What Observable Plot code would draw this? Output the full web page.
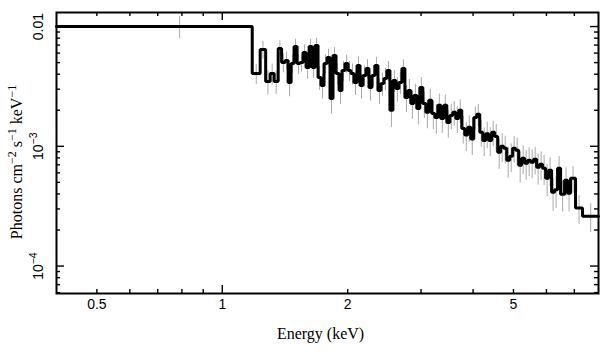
<!DOCTYPE html>
<html><head><meta charset="utf-8">
<script src="https://cdn.jsdelivr.net/npm/d3@7"></script>
<script src="https://cdn.jsdelivr.net/npm/@observablehq/plot@0.6"></script>
<style>body{margin:0;background:#fff}</style>
</head><body><div id="chart"></div>
<script>
// Bin edges (keV), 107 edges -> 106 bins
const edges = [0.4, 1.180, 1.233, 1.271, 1.303, 1.332, 1.362, 1.388, 1.415, 1.439, 1.463, 1.487, 1.512, 1.537, 1.563, 1.589, 1.616, 1.643, 1.670, 1.698, 1.726, 1.755, 1.784, 1.814, 1.844, 1.875, 1.907, 1.938, 1.971, 2.004, 2.037, 2.071, 2.106, 2.141, 2.176, 2.213, 2.250, 2.287, 2.325, 2.364, 2.404, 2.444, 2.484, 2.526, 2.568, 2.611, 2.654, 2.699, 2.744, 2.790, 2.836, 2.883, 2.932, 2.980, 3.030, 3.081, 3.132, 3.184, 3.238, 3.292, 3.346, 3.402, 3.459, 3.517, 3.575, 3.635, 3.696, 3.757, 3.820, 3.884, 3.949, 4.015, 4.082, 4.150, 4.219, 4.289, 4.361, 4.434, 4.508, 4.583, 4.659, 4.737, 4.816, 4.897, 4.978, 5.061, 5.146, 5.232, 5.319, 5.408, 5.498, 5.590, 5.683, 5.778, 5.874, 5.972, 6.072, 6.173, 6.276, 6.381, 6.488, 6.632, 6.742, 6.855, 7.047, 7.324, 8.0];
// Photons cm^-2 s^-1 keV^-1 per bin
const flux = [0.0100, 0.00406, 0.00643, 0.00348, 0.00406, 0.00348, 0.00656, 0.00501, 0.00521, 0.00341,
 0.00491, 0.00681, 0.00491, 0.00501, 0.00607, 0.00455, 0.00681, 0.00455, 0.00695, 0.00376,
 0.00322, 0.00491, 0.00552, 0.00251, 0.00573, 0.00406, 0.00293, 0.00430, 0.00491, 0.00430,
 0.00406, 0.00341, 0.00473, 0.00322, 0.00391, 0.00447, 0.00310, 0.00391, 0.00473, 0.00293,
 0.00335, 0.00369, 0.00430, 0.00200, 0.00355, 0.00304, 0.00341, 0.00447, 0.00256, 0.00293,
 0.00228, 0.00266, 0.00207, 0.00310, 0.00228, 0.00192, 0.00242, 0.00188, 0.00174, 0.00220,
 0.00171, 0.00220, 0.00158, 0.00181, 0.00192, 0.00171, 0.00200, 0.00141, 0.00124, 0.00144,
 0.00115, 0.00174, 0.00185, 0.00131, 0.00112, 0.00127, 0.00112, 0.00131, 0.00121, 0.000891,
 0.00100, 0.000963, 0.000764, 0.000825, 0.000963, 0.000926, 0.000695, 0.000794, 0.000722, 0.000764,
 0.000736, 0.000779, 0.000667, 0.000708, 0.000656, 0.000541, 0.000631, 0.000414, 0.000433, 0.000656,
 0.000398, 0.000521, 0.000405, 0.000541, 0.000305, 0.000261];
// relative 1-sigma errors per bin
const errFrac = [0.21, 0.19, 0.17, 0.23, 0.20, 0.22, 0.16, 0.18, 0.17, 0.24,
 0.18, 0.15, 0.19, 0.17, 0.16, 0.20, 0.15, 0.19, 0.15, 0.22,
 0.23, 0.18, 0.17, 0.26, 0.16, 0.20, 0.24, 0.19, 0.17, 0.19,
 0.20, 0.22, 0.18, 0.23, 0.20, 0.18, 0.23, 0.20, 0.17, 0.24,
 0.22, 0.21, 0.19, 0.28, 0.21, 0.23, 0.21, 0.18, 0.25, 0.23,
 0.26, 0.24, 0.27, 0.21, 0.25, 0.27, 0.24, 0.27, 0.28, 0.24,
 0.25, 0.22, 0.26, 0.24, 0.23, 0.25, 0.22, 0.26, 0.27, 0.25,
 0.27, 0.22, 0.21, 0.25, 0.27, 0.25, 0.27, 0.24, 0.26, 0.28,
 0.27, 0.26, 0.29, 0.27, 0.25, 0.26, 0.29, 0.27, 0.28, 0.27,
 0.27, 0.26, 0.29, 0.27, 0.28, 0.30, 0.27, 0.31, 0.30, 0.25,
 0.29, 0.27, 0.30, 0.25, 0.27, 0.27];

const xLabelValues = [0.5, 1, 2, 5];
const xLabelTexts = ["0.5", "1", "2", "5"];
const xMajor = [1];
const xMinor = [0.5, 0.6, 0.7, 0.8, 0.9, 2, 3, 4, 5, 6, 7];
const yLabelValues = [0.01, 0.001, 0.0001];
const yLabelTexts = ["0.01", "10^\u22123", "10^\u22124"];
const yMajor = [0.0001, 0.001, 0.01];
const yMinor = [6e-5, 7e-5, 8e-5, 9e-5, 2e-4, 3e-4, 4e-4, 5e-4, 6e-4, 7e-4, 8e-4, 9e-4, 2e-3, 3e-3, 4e-3, 5e-3, 6e-3, 7e-3, 8e-3, 9e-3];
const xTitle = "Energy (keV)";
const yTitle = "Photons cm^\u22122 s^\u22121 keV^\u22121";

const W = 609, H = 357, mL = 56, mR = 11, mT = 12, mB = 64;
const pW = W - mL - mR, pH = H - mT - mB;
const majLen = 8, minLen = 4;

const bins = flux.map((v, i) => ({lo: edges[i], hi: edges[i + 1], v, mid: (edges[i] + edges[i + 1]) / 2, e: v * errFrac[i]}));
const stepPts = bins.map(b => ({x: b.lo, y: b.v}));
stepPts.push({x: bins[bins.length - 1].hi, y: bins[bins.length - 1].v});

const tickStyle = {stroke: "black", strokeWidth: 1.4};
const serif = "'Liberation Serif', 'Times New Roman', serif";
const chart = Plot.plot({
  width: W, height: H,
  marginLeft: mL, marginRight: mR, marginTop: mT, marginBottom: mB,
  style: {fontFamily: "'Liberation Sans', Arial, sans-serif", fontSize: "14px", background: "white", color: "black"},
  x: {type: "log", domain: [0.4, 8], axis: null},
  y: {type: "log", domain: [5.9e-5, 0.0131], axis: null},
  marks: [
    Plot.ruleX(bins, {x: "mid", y1: d => d.v - d.e, y2: d => d.v + d.e, stroke: "#a8a8a8", strokeWidth: 1}),
    Plot.line(stepPts, {x: "x", y: "y", curve: "step-after", stroke: "black", strokeWidth: 3, strokeLinejoin: "miter"}),
    // inward ticks: bottom / top
    Plot.tickX(xMajor, {x: d => d, insetTop: pH - majLen, ...tickStyle}),
    Plot.tickX(xMajor, {x: d => d, insetBottom: pH - majLen, ...tickStyle}),
    Plot.tickX(xMinor, {x: d => d, insetTop: pH - minLen, ...tickStyle}),
    Plot.tickX(xMinor, {x: d => d, insetBottom: pH - minLen, ...tickStyle}),
    // inward ticks: left / right
    Plot.tickY(yMajor, {y: d => d, insetRight: pW - majLen, ...tickStyle}),
    Plot.tickY(yMajor, {y: d => d, insetLeft: pW - majLen, ...tickStyle}),
    Plot.tickY(yMinor, {y: d => d, insetRight: pW - minLen, ...tickStyle}),
    Plot.tickY(yMinor, {y: d => d, insetLeft: pW - minLen, ...tickStyle}),
    Plot.frame({stroke: "black", strokeWidth: 2}),
    Plot.text(xLabelValues, {x: d => d, text: (d, i) => xLabelTexts[i], frameAnchor: "bottom", dy: 15, fontSize: 14}),
    Plot.text(yLabelValues, {y: d => d, text: (d, i) => yLabelTexts[i], frameAnchor: "left", textAnchor: "middle", dx: -18, rotate: -90, fontSize: 14}),
    Plot.text([xTitle], {text: d => d, frameAnchor: "bottom", dx: -7, dy: 45, fontSize: 16, fontFamily: serif}),
    Plot.text([yTitle], {text: d => d, frameAnchor: "left", textAnchor: "middle", dx: -40, dy: 9, rotate: -90, fontSize: 16, fontFamily: serif, wordSpacing: 6, letterSpacing: 0.2})
  ]
});
// superscripts
d3.select(chart).selectAll("text").each(function () {
  const s = this.textContent;
  if (!s.includes("^")) return;
  const parts = s.split(/\^(\S+)/);
  const el = d3.select(this);
  el.text(null);
  parts.forEach((p, i) => {
    if (p === "") return;
    const isSup = i % 2 === 1;
    const t = el.append("tspan").text(p);
    if (isSup) t.attr("dy", -6).attr("font-size", "0.75em");
    else if (i > 0) t.attr("dy", 6);
  });
});
document.getElementById("chart").appendChild(chart);
</script>
</body></html>
